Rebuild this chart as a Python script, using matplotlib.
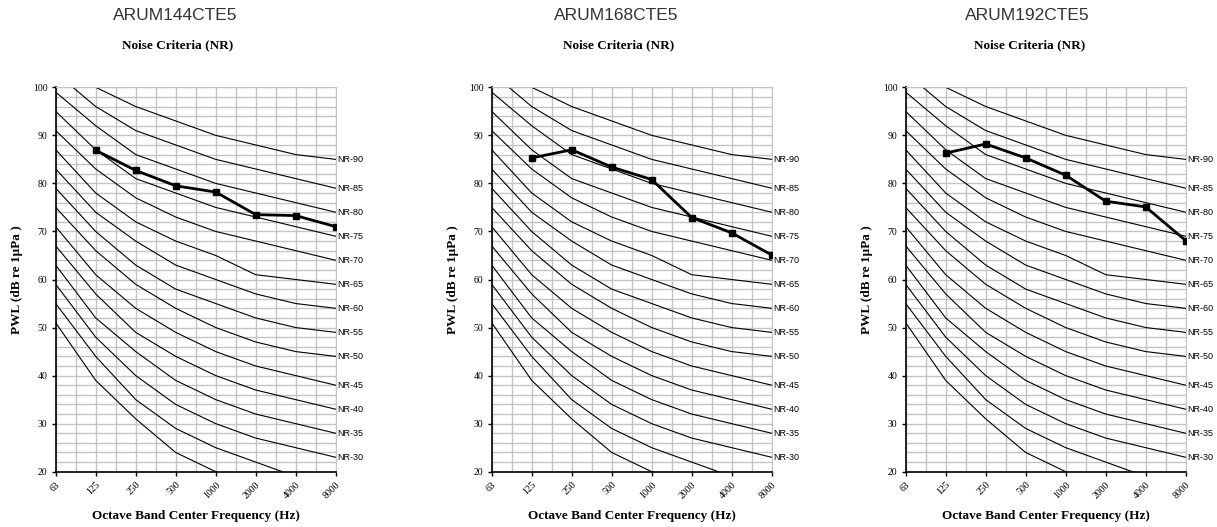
import numpy as np
import matplotlib.pyplot as plt
from matplotlib.ticker import MultipleLocator

# octave band centres (category axis)
freq_labels = ["63", "125", "250", "500", "1000", "2000", "4000", "8000"]

# NR reference curves, dB at each octave band
nr_names = ["NR-20", "NR-25", "NR-30", "NR-35", "NR-40", "NR-45", "NR-50", "NR-55",
            "NR-60", "NR-65", "NR-70", "NR-75", "NR-80", "NR-85", "NR-90"]
nr_curves = [
    [51, 39, 31, 24, 20, 17, 14, 13],
    [55, 44, 35, 29, 25, 22, 19, 18],
    [59, 48, 40, 34, 30, 27, 25, 23],
    [63, 52, 45, 39, 35, 32, 30, 28],
    [67, 57, 49, 44, 40, 37, 35, 33],
    [71, 61, 54, 49, 45, 42, 40, 38],
    [75, 66, 59, 54, 50, 47, 45, 44],
    [79, 70, 63, 58, 55, 52, 50, 49],
    [83, 74, 68, 63, 60, 57, 55, 54],
    [87, 78, 72, 68, 65, 61, 60, 59],
    [91, 83, 77, 73, 70, 68, 66, 64],
    [95, 87, 81, 78, 75, 73, 71, 69],
    [99, 92, 86, 83, 80, 78, 76, 74],
    [103, 96, 91, 88, 85, 83, 81, 79],
    [107, 100, 96, 93, 90, 88, 86, 85],
]
labelled_from = 2  # NR-20 and NR-25 end below the plot, no label

# unit sound power levels (no 63 Hz value)
models = ["ARUM144CTE5", "ARUM168CTE5", "ARUM192CTE5"]
arum144 = [np.nan, 86.9, 82.7, 79.5, 78.2, 73.5, 73.3, 71.0]
arum168 = [np.nan, 85.3, 87.0, 83.4, 80.8, 72.9, 69.7, 65.1]
arum192 = [np.nan, 86.3, 88.2, 85.3, 81.7, 76.3, 75.1, 68.1]
unit_data = [arum144, arum168, arum192]

W, H = 1217, 527
fig = plt.figure(figsize=(W / 100, H / 100), dpi=100)

serif = "Liberation Serif"
sans = "Liberation Sans"

ax_lefts = [55.7, 491.7, 905.7]
title_x = [175, 616, 1027]
ax_w, ax_top, ax_bot = 280.0, 87.3, 471.7

x = np.arange(len(freq_labels))

for i, model in enumerate(models):
    ax = fig.add_axes([ax_lefts[i] / W, 1 - ax_bot / H, ax_w / W, (ax_bot - ax_top) / H])

    for j, curve in enumerate(nr_curves):
        ax.plot(x, curve, color="black", lw=0.8, zorder=2)
        if j >= labelled_from:
            ax.text(x[-1] + 0.03, curve[-1], nr_names[j], fontsize=6.5,
                    family=sans, va="center", ha="left", clip_on=False)

    ax.plot(x, unit_data[i], color="black", lw=2, marker="s", ms=5, zorder=3)

    ax.set_xlim(0, 7)
    ax.set_ylim(20, 100)
    ax.set_xticks(x)
    ax.set_xticklabels(freq_labels, rotation=45, ha="right", va="top",
                       rotation_mode="anchor", fontsize=7, family=serif)
    ax.set_yticks(range(20, 101, 10))
    ax.set_yticklabels([str(v) for v in range(20, 101, 10)], fontsize=7, family=serif)
    ax.xaxis.set_minor_locator(MultipleLocator(0.5))
    ax.yaxis.set_minor_locator(MultipleLocator(2))
    ax.grid(which="both", color="#c4c4c4", lw=1.0)
    ax.set_axisbelow(True)
    ax.tick_params(which="major", direction="out", length=3, width=1, pad=3)
    ax.tick_params(which="minor", length=0)

    for side in ["top", "right"]:
        ax.spines[side].set_color("#c4c4c4")
    for side in ["left", "bottom"]:
        ax.spines[side].set_linewidth(1.2)

    ax.text(-39 / ax_w, 0.5, "PWL (dB re 1\u03bcPa )", rotation=90, transform=ax.transAxes,
            ha="center", va="center", fontsize=9.5, fontweight="bold", family=serif)
    ax.text(0.5, -44 / (ax_bot - ax_top), "Octave Band Center Frequency (Hz)",
            transform=ax.transAxes, ha="center", va="center",
            fontsize=9.5, fontweight="bold", family=serif)

    fig.text(title_x[i] / W, 1 - 15.5 / H, model, ha="center", va="center",
             fontsize=12.5, family=sans, color="#333333")
    fig.text(title_x[i] / W + 3 / W, 1 - 45 / H, "Noise Criteria (NR)", ha="center",
             va="center", fontsize=9.5, fontweight="bold", family=serif)

fig.savefig("out.png", dpi=100)
